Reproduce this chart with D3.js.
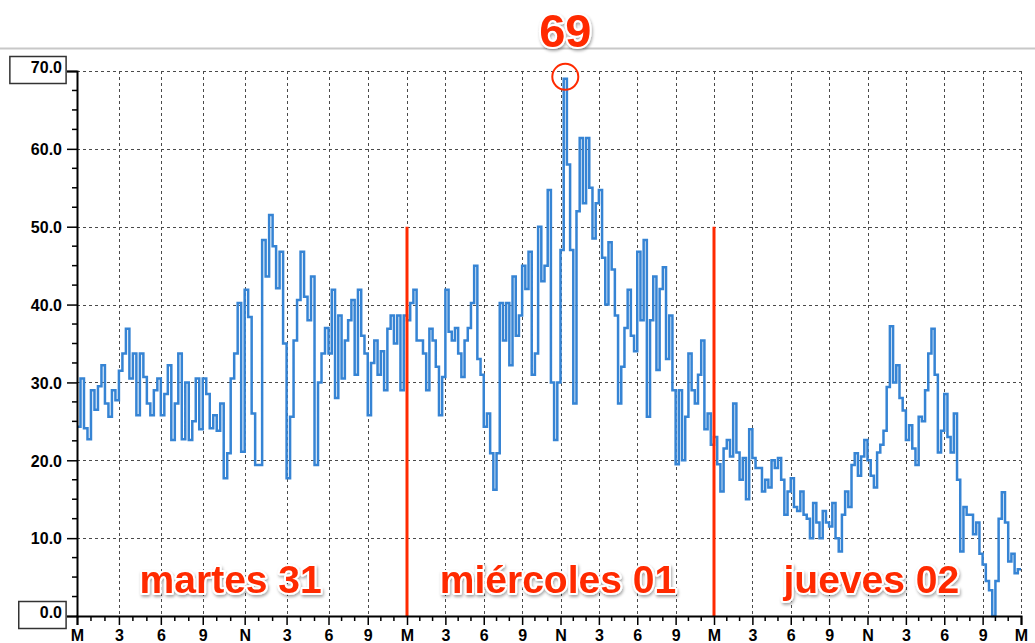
<!DOCTYPE html>
<html><head><meta charset="utf-8">
<script src="https://cdn.jsdelivr.net/npm/d3@7"></script>
<style>body{margin:0;background:#fff;} svg{display:block;}</style>
</head><body><svg id="c" width="1035" height="643"></svg>
<script>
// ---- data ----
const dayLabels = ["martes 31", "miércoles 01", "jueves 02"];
const hourTickLabels = ["M", "3", "6", "9", "N", "3", "6", "9"];
const yTickValues = [0, 10, 20, 30, 40, 50, 60, 70];
const stepMinutes = 15;
const peakLabel = "69";
const dayBoundaryTop = 50;

const martes31 = [24.3,30.5,24.1,22.7,29.0,26.5,29.5,32.2,27.3,25.6,29.0,27.7,31.5,33.7,36.9,30.5,
  33.7,25.8,33.7,30.7,27.3,25.8,29.0,30.5,25.8,28.5,32.2,22.6,27.3,33.7,22.7,30.0,
  22.6,25.0,30.5,24.0,30.5,28.5,24.1,25.8,23.8,27.3,17.7,20.9,30.5,33.7,40.2,21.1,
  41.9,38.4,26.0,19.4,19.4,48.3,43.6,51.5,47.5,42.1,46.8,35.0,17.7,25.6,35.4,40.6,
  46.8,41.0,38.0,43.6,19.4,30.0,33.7,37.0,33.7,41.9,28.0,38.6,30.5,35.4,38.0,40.6,
  31.0,41.9,36.0,33.7,25.8,32.5,35.4,31.0,34.0,29.0,36.9,38.6,35.0,38.6,29.0,38.6];
const miercoles01 = [38.0,40.2,41.9,35.4,35.4,33.7,29.0,36.9,35.4,32.0,25.8,30.7,41.9,36.5,35.4,37.0,
  33.7,30.7,35.4,37.0,40.2,45.0,33.0,31.0,24.3,26.0,20.9,16.2,20.9,40.2,35.4,40.2,
  32.2,43.6,36.0,38.6,45.0,42.0,46.8,31.0,33.7,50.0,43.0,45.0,54.7,30.0,22.6,30.0,
  47.0,69.0,58.0,47.0,27.3,52.0,61.4,53.0,61.4,55.0,48.5,53.0,54.7,46.0,40.0,48.0,
  44.5,38.6,27.3,32.0,37.0,41.9,36.0,34.0,46.8,38.0,48.3,25.6,38.0,43.6,31.6,42.0,
  44.8,33.0,38.6,29.0,19.5,29.0,20.0,25.6,33.7,29.0,27.3,31.0,35.4,24.0,26.0,22.0];
const jueves02 = [23.0,19.5,16.0,21.5,22.6,20.5,27.3,21.0,17.5,20.3,15.0,24.0,20.3,19.0,19.0,16.0,
  17.5,16.5,20.0,19.0,20.3,17.5,13.0,16.0,17.7,14.0,13.5,16.0,13.0,12.5,10.0,14.5,
  12.0,10.0,13.5,12.0,11.5,14.5,10.0,8.3,13.0,16.0,14.0,19.4,20.9,18.0,20.5,22.6,
  20.0,18.0,16.5,21.0,22.0,23.8,29.4,37.2,30.0,32.2,28.0,26.4,22.6,24.5,21.5,19.4,
  25.6,25.0,29.0,33.7,36.9,31.0,21.0,23.8,28.5,23.0,21.0,26.0,17.5,8.3,14.0,13.0,
  13.0,10.5,12.0,8.0,6.6,4.5,3.3,0.0,4.5,12.5,15.9,12.0,7.0,8.0,5.5,6.0];

// ---- drawing ----
const svg = d3.select("#c");
const RED = "#ff2a00", BLUE = "#3684d4";
const x = d3.scaleLinear().domain([0, 18, 24, 72]).range([77, 328.5, 407, 1021]);
const y = d3.scaleLinear().domain([0, 70]).range([616, 71]);

const defs = svg.append("defs");
const f = defs.append("filter").attr("id", "sh").attr("x", "-20%").attr("y", "-30%").attr("width", "140%").attr("height", "170%");
f.append("feDropShadow").attr("dx", 1).attr("dy", 2).attr("stdDeviation", 1.6).attr("flood-color", "#000").attr("flood-opacity", 0.35);

// top separator line
svg.append("line").attr("x1", 0).attr("x2", 1035).attr("y1", 48.5).attr("y2", 48.5)
  .attr("stroke", "#c8c8c8").attr("stroke-width", 2);

const series = [martes31, miercoles01, jueves02];
const pts = series.flatMap((arr, d) => arr.map((v, i) => ({ h: d * 24 + i * stepMinutes / 60, v })));
pts.push({ h: 72, v: pts[pts.length - 1].v });

// grid
const grid = svg.append("g").attr("stroke", "#4a4a4a").attr("stroke-width", 1).attr("stroke-dasharray", "3,3");
yTickValues.filter(v => v > 0).forEach(v => {
  grid.append("line").attr("x1", x(0)).attr("x2", x(72)).attr("y1", Math.round(y(v)) + 0.5).attr("y2", Math.round(y(v)) + 0.5);
});
d3.range(3, 73, 3).forEach(h => {
  grid.append("line").attr("x1", Math.round(x(h)) + 0.5).attr("x2", Math.round(x(h)) + 0.5).attr("y1", y(70)).attr("y2", y(0));
});

// data line
svg.append("path").datum(pts)
  .attr("fill", "none").attr("stroke", BLUE).attr("stroke-width", 2.5).attr("stroke-linejoin", "miter")
  .attr("d", d3.line().x(d => x(d.h)).y(d => y(d.v)).curve(d3.curveStepAfter));

// day boundary lines
[24, 48].forEach(h => {
  svg.append("line").attr("x1", x(h)).attr("x2", x(h)).attr("y1", y(dayBoundaryTop)).attr("y2", y(0))
    .attr("stroke", RED).attr("stroke-width", 3);
});

// y axis
const yAxisG = svg.append("g").attr("transform", `translate(${x(0)},0)`)
  .call(d3.axisLeft(y).tickValues(yTickValues).tickSize(10).tickPadding(5).tickFormat(d3.format(".1f")));
yAxisG.select(".domain").attr("stroke", "#000").attr("stroke-width", 2);
yAxisG.selectAll(".tick line").attr("stroke", "#000").attr("stroke-width", 1.5);
yAxisG.selectAll(".tick text").attr("font-family", "Liberation Sans, Arial, sans-serif")
  .attr("font-weight", "bold").attr("font-size", 16).attr("fill", "#000").attr("dy", "0.36em");
// minor y ticks
const minorY = svg.append("g");
d3.range(0, 70.01, 2.5).filter(v => v % 10 !== 0).forEach(v => {
  minorY.append("line").attr("x1", x(0) - 5).attr("x2", x(0)).attr("y1", y(v)).attr("y2", y(v))
    .attr("stroke", "#000").attr("stroke-width", 1.5);
});
// boxed end labels
yAxisG.selectAll(".tick").filter(d => d === 0 || d === 70).each(function () {
  const t = d3.select(this).select("text").attr("dy", "0.08em");
  const bb = t.node().getBBox();
  d3.select(this).insert("rect", "text")
    .attr("x", bb.x - 21).attr("y", -15).attr("width", bb.width + 25).attr("height", 27)
    .attr("fill", "#fff").attr("stroke", "#333").attr("stroke-width", 1.5);
});

// x axis
const xAxisG = svg.append("g").attr("transform", `translate(0,${y(0)})`)
  .call(d3.axisBottom(x).tickValues(d3.range(0, 73, 3)).tickSize(9).tickPadding(5)
    .tickFormat(d => hourTickLabels[(d / 3) % 8]));
xAxisG.select(".domain").attr("stroke", "#000").attr("stroke-width", 2);
xAxisG.selectAll(".tick line").attr("stroke", "#000").attr("stroke-width", 1.5);
xAxisG.selectAll(".tick text").attr("font-family", "Liberation Sans, Arial, sans-serif")
  .attr("font-weight", "bold").attr("font-size", 16).attr("fill", "#000");
const minorX = svg.append("g");
d3.range(1, 72).filter(h => h % 3 !== 0).forEach(h => {
  minorX.append("line").attr("x1", x(h)).attr("x2", x(h)).attr("y1", y(0)).attr("y2", y(0) + 5)
    .attr("stroke", "#000").attr("stroke-width", 1.5);
});

// day labels
const dayLabelHours = [11, 35.8, 60.3];
dayLabels.forEach((t, i) => {
  svg.append("text").attr("x", x(dayLabelHours[i])).attr("y", 593).attr("text-anchor", "middle")
    .attr("font-family", "Liberation Sans, Arial, sans-serif").attr("font-weight", "bold").attr("font-size", 39)
    .attr("fill", RED).attr("stroke", "#fff").attr("stroke-width", 4).attr("paint-order", "stroke")
    .attr("stroke-linejoin", "round").attr("filter", "url(#sh)").text(t);
});

// peak annotation
const peak = pts.reduce((a, b) => (b.v > a.v ? b : a));
const peakX = x(peak.h + stepMinutes / 120);
svg.append("circle").attr("cx", peakX).attr("cy", y(peak.v) - 2).attr("r", 13)
  .attr("fill", "none").attr("stroke", RED).attr("stroke-width", 2);
svg.append("text").attr("x", peakX).attr("y", 47).attr("text-anchor", "middle")
  .attr("font-family", "Liberation Sans, Arial, sans-serif").attr("font-weight", "bold").attr("font-size", 47)
  .attr("fill", RED).attr("stroke", "#fff").attr("stroke-width", 4).attr("paint-order", "stroke")
  .attr("stroke-linejoin", "round").attr("filter", "url(#sh)").text(peakLabel);
</script>
</body></html>
